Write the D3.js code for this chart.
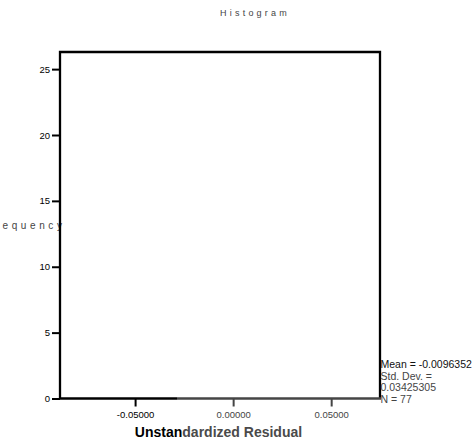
<!DOCTYPE html>
<html>
<head>
<meta charset="utf-8">
<script src="https://cdn.jsdelivr.net/npm/d3@7"></script>
<style>
  body { margin: 0; background: #fff; }
  svg { display: block; font-family: "Liberation Sans", Arial, sans-serif; }
</style>
</head>
<body>
<div id="chart"></div>
<script>
// chart values
const title = 'Histogram';
const xLabelParts = ['Unstan', 'dardized Residual'];
const yLabel = 'Frequency';
const xDomain = [-0.0883, 0.0749];
const yDomain = [0, 26.3];
const xTicks = [-0.05, 0.0, 0.05];
const yTicks = [0, 5, 10, 15, 20, 25];
const binCounts = []; // no bars drawn in the source
const statsLines = ['Mean = -0.0096352', 'Std. Dev. =', '0.03425305', 'N = 77'];

const W = 474, H = 445;
const margin = {top: 52, right: 94, bottom: 46, left: 60};
const dark = '#000', grey = '#454545';
const split = 177; // left part of the source renders darker

const svg = d3.select('#chart').append('svg')
  .attr('width', W)
  .attr('height', H);

const x = d3.scaleLinear().domain(xDomain).range([margin.left, W - margin.right]);
const y = d3.scaleLinear().domain(yDomain).range([H - margin.bottom - 0.5, margin.top]);

// title
svg.append('text')
  .attr('x', 255).attr('y', 16)
  .attr('text-anchor', 'middle')
  .style('font-size', '9px')
  .style('letter-spacing', '3.2px')
  .style('fill', grey)
  .text(title);

// y label, horizontal and cut at the left edge as in the source
svg.append('text')
  .attr('x', 65.5).attr('y', 229)
  .attr('text-anchor', 'end')
  .style('font-size', '10px')
  .style('letter-spacing', '3.6px')
  .style('fill', grey)
  .text(yLabel);

// bars (none)
svg.append('g').selectAll('rect')
  .data(binCounts).enter().append('rect');

// frame
const x0 = x.range()[0], x1 = x.range()[1];
const yTop = y.range()[1], yBot = y.range()[0];
svg.append('path')
  .attr('d', `M${x0},${yBot} L${x0},${yTop} L${x1},${yTop} L${x1},${yBot}`)
  .style('fill', 'none')
  .style('stroke', dark)
  .style('stroke-width', 2.3);

// y axis
const yAxis = svg.append('g')
  .attr('transform', `translate(${x0},0)`)
  .call(d3.axisLeft(y).tickValues(yTicks).tickSize(8).tickPadding(2).tickFormat(d => String(d)));
yAxis.select('.domain').remove();
yAxis.selectAll('line').style('stroke', dark).style('stroke-width', 2);
yAxis.selectAll('text').style('font-size', '9.5px').style('fill', dark).style('font-family', '"Liberation Sans", Arial, sans-serif');

// x axis
const xAxis = svg.append('g')
  .attr('transform', `translate(0,${yBot})`)
  .call(d3.axisBottom(x).tickValues(xTicks).tickSize(8).tickPadding(5).tickFormat(d => d.toFixed(5)));
xAxis.select('.domain').remove();
xAxis.selectAll('line').style('stroke-width', 2)
  .style('stroke', d => x(d) < split ? dark : grey);
xAxis.selectAll('text').style('font-size', '9.5px')
  .style('font-family', '"Liberation Sans", Arial, sans-serif')
  .style('fill', d => x(d) < split ? dark : grey);

// bottom line: dark on the left, grey to the right
svg.append('line')
  .attr('x1', x0 - 1).attr('x2', split)
  .attr('y1', yBot).attr('y2', yBot)
  .style('stroke', dark).style('stroke-width', 2.3);
svg.append('line')
  .attr('x1', split).attr('x2', x1 + 1)
  .attr('y1', yBot).attr('y2', yBot)
  .style('stroke', grey).style('stroke-width', 2.3);

// x label
const xl = svg.append('text')
  .attr('x', (x0 + x1) / 2 - 1.5).attr('y', 437)
  .attr('text-anchor', 'middle')
  .style('font-size', '14px')
  .style('font-weight', 'bold');
xl.append('tspan').style('fill', '#000').text(xLabelParts[0]);
xl.append('tspan').style('fill', '#4a4a4a').text(xLabelParts[1]);

// stats box
svg.append('g').selectAll('text')
  .data(statsLines).enter().append('text')
    .attr('x', x1 + 0.5)
    .attr('y', (d, i) => 368 + i * 11.6)
    .style('font-size', '10.5px')
    .style('fill', (d, i) => i === 0 ? '#111' : grey)
    .text(d => d);
</script>
</body>
</html>
